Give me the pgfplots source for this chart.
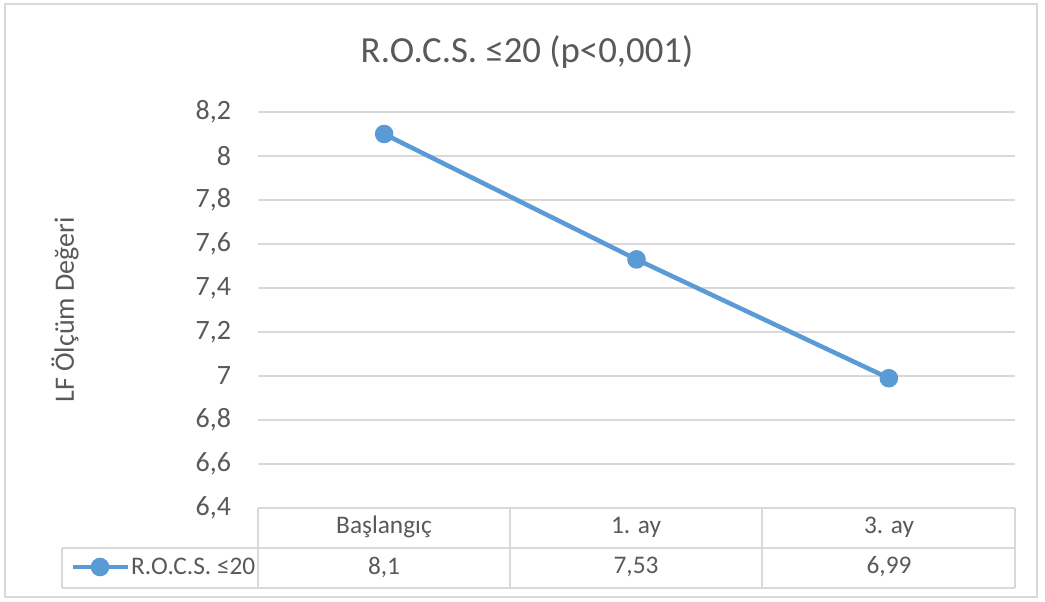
\documentclass[border=0pt]{standalone}
\usepackage{pgfplots}
\pgfplotsset{compat=1.18}
\usepackage{fontspec}
\setmainfont{Carlito}
\definecolor{lineblue}{HTML}{5B9BD5}
\definecolor{txt}{HTML}{595959}
\definecolor{gridc}{HTML}{D9D9D9}
\begin{document}
\begin{tikzpicture}[x=0.75pt,y=0.75pt]
\path (0,0) rectangle (1045,601);
\draw[gridc, line width=1.2pt] (5,4) rectangle (1037,597);
\begin{axis}[
  at={(193.5pt,69.75pt)}, anchor=south west, scale only axis,
  width=567.75pt, height=297pt,
  xmin=-0.5, xmax=2.5, ymin=6.4, ymax=8.2,
  ytick={6.4,6.6,6.8,7,7.2,7.4,7.6,7.8,8,8.2},
  xtick=\empty,
  ymajorgrids, grid style={gridc, line width=1.1pt},
  axis line style={draw=none},
  major tick length=0pt,
  yticklabel shift=20pt,
  y tick label style={font=\fontsize{21}{21}\selectfont, color=txt, inner sep=0pt},
  /pgf/number format/.cd, use comma, fixed, assume math mode=true,
  /pgfplots/.cd,
  legend style={at={(-0.2483,-0.149)}, anchor=west, draw=none, fill=none,
    inner sep=0pt, font=\fontsize{19}{19}\selectfont, text=txt,
    nodes={inner sep=1pt}},
  legend image code/.code={\draw[mark repeat=2,mark phase=2,#1] plot coordinates {(0pt,0pt)(20.6pt,0pt)(41.2pt,0pt)};},
]
\addplot[lineblue, line width=3.4pt, mark=*, mark size=5.25pt] coordinates {(0,8.1)(1,7.53)(2,6.99)};
\addlegendentry{R.O.C.S. ≤20}
\end{axis}
% data table
\begin{scope}[gridc, line width=1.1pt]
\draw (258,93)--(1015,93);
\draw (62,53)--(1015,53);
\draw (62,13)--(1015,13);
\draw (62,53)--(62,13);
\draw (258,93)--(258,13);
\draw (510,93)--(510,13);
\draw (762,93)--(762,13);
\draw (1015,93)--(1015,13);
\end{scope}
\begin{scope}[txt, font=\fontsize{19}{19}\selectfont]
\node at (384,74) {Başlangıç};
\node at (636,74) {1. ay};
\node at (889,74) {3. ay};
\node at (384,34) {8,1};
\node at (636,34) {7,53};
\node at (889,34) {6,99};
\end{scope}
\node[txt, rotate=90, font=\fontsize{21}{21}\selectfont] at (65,291) {LF Ölçüm Değeri};
\node[txt, font=\fontsize{27.6}{27.6}\selectfont] at (527,549) {R.O.C.S. ≤20 (p<0,001)};
\end{tikzpicture}
\end{document}
